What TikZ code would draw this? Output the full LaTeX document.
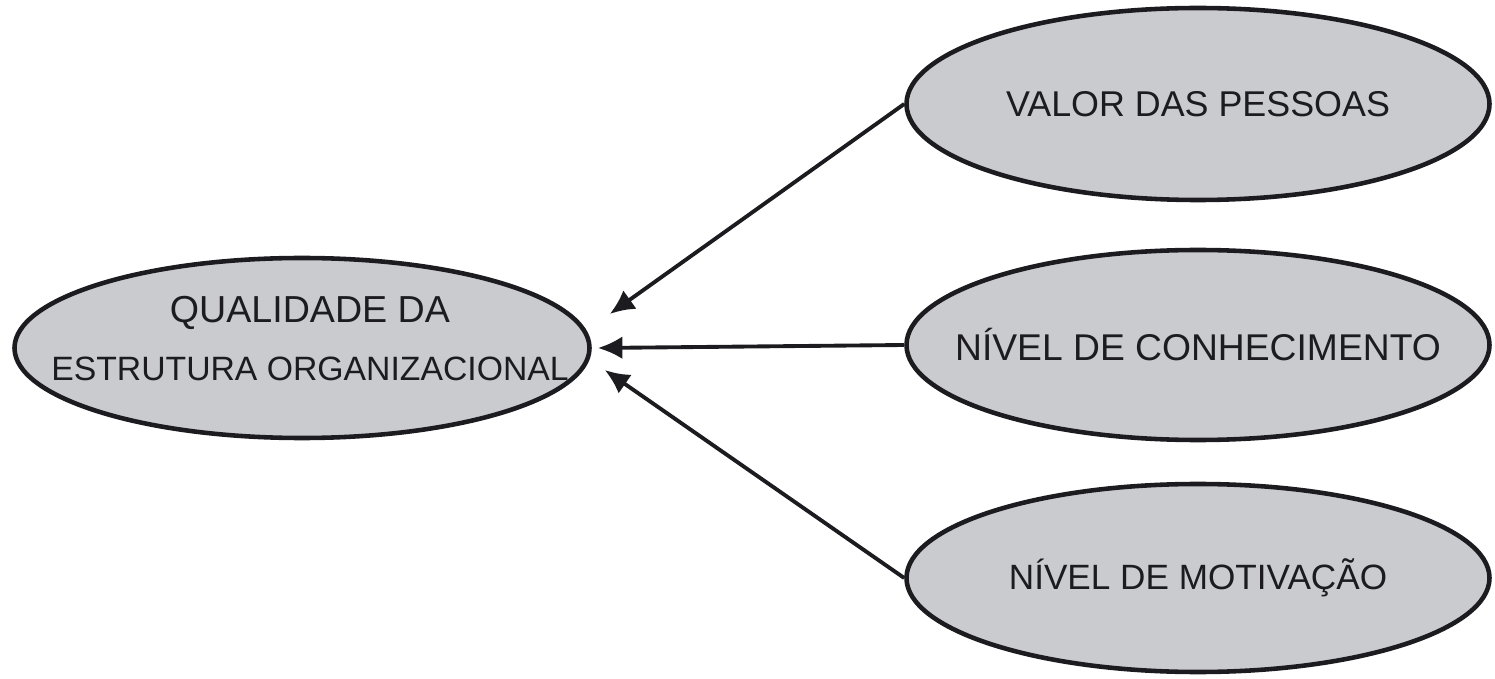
\documentclass[tikz,border=0pt]{standalone}
\usepackage{fontspec}
\setmainfont{Liberation Sans}
\usepackage{tikz}
\usetikzlibrary{calc, shapes.geometric, arrows.meta}
\definecolor{ovalgray}{RGB}{201,203,207}
\definecolor{inkdark}{RGB}{28,28,32}
\tikzset{>={Latex[length=7pt,width=6.5pt]}}

\begin{document}
\begin{tikzpicture}[
  oval/.style = {ellipse, draw = inkdark, line width = 1.3pt, fill = ovalgray, inner sep = 0pt},
  ovaltext/.style = {font = \fontsize{10.2}{16.5}\selectfont, text = inkdark, align = center},
  feed/.style = {->, line width = 1.1pt, draw = inkdark}
]
\useasboundingbox (0,0) rectangle (14.95,6.78);
\node[oval, minimum width = 5.75cm, minimum height = 1.8cm, label = {[ovaltext, xshift = 0.08cm, yshift = 0.09cm]center:{\fontsize{10.7}{16.5}\selectfont QUALIDADE DA}\\{\fontsize{9.6}{16.5}\selectfont ESTRUTURA ORGANIZACIONAL}}] (qualidade) at (3.02,3.30) {};
\node[oval, minimum width = 5.83cm, minimum height = 1.92cm, label = {[ovaltext]center:VALOR DAS PESSOAS}] (valor) at (11.98,5.74) {};
\node[oval, minimum width = 5.83cm, minimum height = 1.90cm, label = {[ovaltext, font = \fontsize{10.6}{12}\selectfont]center:NÍVEL DE CONHECIMENTO}] (conhecimento) at (11.98,3.33) {};
\node[oval, minimum width = 5.83cm, minimum height = 1.88cm, label = {[ovaltext, font = \fontsize{10}{12}\selectfont]center:NÍVEL DE MOTIVAÇÃO}] (motivacao) at (11.98,1.00) {};
\coordinate (tipvalor) at ($(qualidade.east) + (0.18,0.34)$);
\coordinate (tipconhecimento) at ($(qualidade.east) + (0.06,0)$);
\coordinate (tipmotivacao) at ($(qualidade.east) + (0.13,-0.22)$);
\draw[feed] (valor.west) -- (tipvalor);
\draw[feed] (conhecimento.west) -- (tipconhecimento);
\draw[feed] (motivacao.west) -- (tipmotivacao);
\end{tikzpicture}
\end{document}
